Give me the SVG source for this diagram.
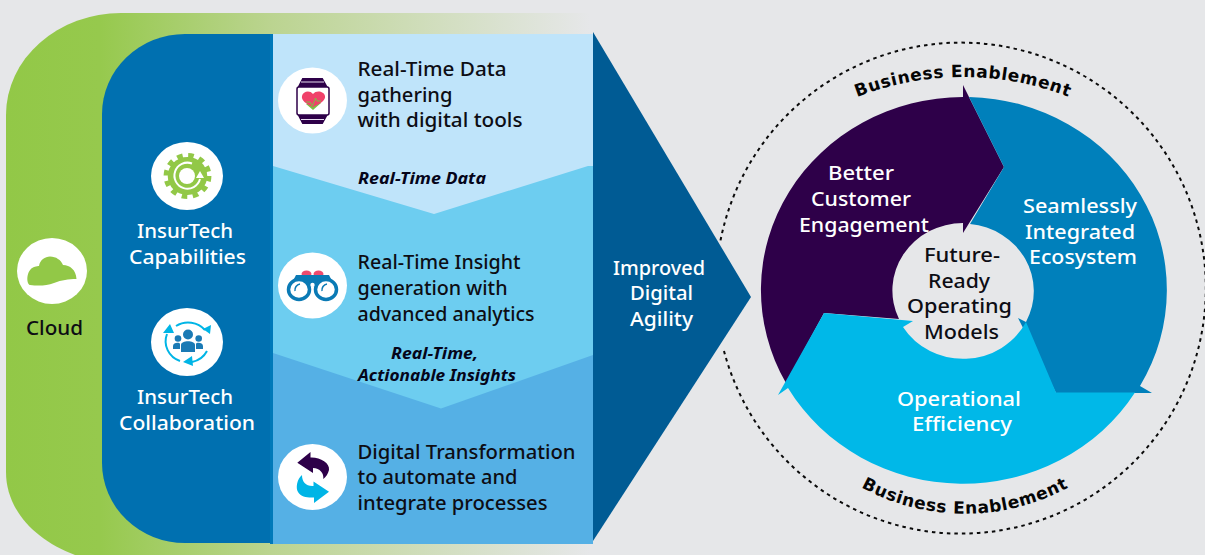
<svg xmlns="http://www.w3.org/2000/svg" width="1205" height="555" viewBox="0 0 1205 555">
<style>
text{font-family:"Noto Sans","Open Sans","DejaVu Sans",sans-serif;font-size:20px;font-weight:500;fill:#0d0d14}
.w{fill:#fff}
.it{font-size:16px;font-weight:700;font-style:italic;fill:#05051a}
.be{font-family:"DejaVu Sans","Open Sans",sans-serif;font-size:17px;font-weight:700;fill:#050505;letter-spacing:.6px}
.disc{fill:#fff}
</style>
<defs>
<linearGradient id="g" gradientUnits="userSpaceOnUse" x1="6" y1="0" x2="590" y2="0">
<stop offset="0" stop-color="#92c847"/><stop offset=".16" stop-color="#96c94d"/><stop offset=".454" stop-color="#bbd490"/><stop offset="1" stop-color="#e6e7e9"/>
</linearGradient>
<path id="bt" d="M843,103 A290,290 0 0 1 1083,103"/>
<path id="bb" d="M843,476 A216,216 0 0 0 1087,476"/>
</defs>
<rect width="1205" height="555" fill="#e6e7e9"/>
<path id="cloud-band" d="M6,115 A115,102 0 0 1 121,13 H590 V555 H75 C35,540 6,510 6,472 Z" fill="url(#g)"/>
<path id="platform" d="M273,34 H185 A83,80 0 0 0 102,114 V463 A83,80 0 0 0 185,543 H273 Z" fill="#0070b0"/>

<g id="agility">
<path d="M593,32 L751,297 L593,541 Z" fill="#005b94"/>
<text class="w" x="613" y="275" textLength="92" lengthAdjust="spacingAndGlyphs">Improved</text>
<text class="w" x="630" y="300" textLength="63" lengthAdjust="spacingAndGlyphs">Digital</text>
<text class="w" x="630" y="326" textLength="63" lengthAdjust="spacingAndGlyphs">Agility</text>
</g>

<g id="panels">
<rect x="273" y="34" width="320" height="510" fill="#bfe4fa"/>
<path d="M273,166 L434,214 L588,166 H593 V544 H273 Z" fill="#6dcdf0"/>
<path d="M273,353 L441,408.500 L593,355 V544 H273 Z" fill="#55b0e5"/>
<rect x="270" y="34" width="3" height="510" fill="#0079b9"/>
<text class="it" x="358" y="184" textLength="128" lengthAdjust="spacingAndGlyphs">Real-Time Data</text>
<text class="it" x="391" y="359" textLength="87" lengthAdjust="spacingAndGlyphs">Real-Time,</text>
<text class="it" x="358" y="381" textLength="158" lengthAdjust="spacingAndGlyphs">Actionable Insights</text>
</g>

<g id="data-gathering">
<ellipse class="disc" cx="312.500" cy="100.500" rx="34.500" ry="33"/>
<path d="M302.300,78 H322.700 L327.700,87 H297.700 Z M297.700,115 H327.700 L322.700,124 H302.300 Z" fill="#2e0049"/>
<path d="M301,82 H324 M301,119.500 H324" stroke="#e6dcef" stroke-width="1.200" fill="none"/>
<rect x="297" y="87" width="32" height="28" rx="2" fill="#fff" stroke="#2e0049" stroke-width="1.500"/>
<path d="M306,104 L313,110 L321,103 L317,100 L315,105 L312,102 Z" fill="#7ac143"/>
<path d="M313,107 C306,104 301,100 302,96 C303,91 310,90 313,94 C316,90 324,91 325,96 C326,100 320,104 313,107 Z" fill="#f0416a"/>
<path d="M306,102 H310 L312.500,106 L315.500,98 L317,101 H321" fill="none" stroke="#7ac143" stroke-width="1"/>
<text x="357.500" y="76" textLength="149" lengthAdjust="spacingAndGlyphs">Real-Time Data</text>
<text x="357.500" y="102" textLength="95" lengthAdjust="spacingAndGlyphs">gathering</text>
<text x="357.500" y="127" textLength="165" lengthAdjust="spacingAndGlyphs">with digital tools</text>
</g>

<g id="insight-generation">
<ellipse class="disc" cx="312.500" cy="285.500" rx="34.500" ry="33"/>
<ellipse cx="306.500" cy="274" rx="5" ry="3.500" fill="#ee4b6e"/>
<ellipse cx="318.500" cy="274" rx="5" ry="3.500" fill="#ee4b6e"/>
<path d="M296,275 H329 L335,287 H290 Z" fill="#0a7ab5"/>
<ellipse cx="299" cy="289.500" rx="10.500" ry="10" fill="#fff" stroke="#0a7ab5" stroke-width="3.500"/>
<ellipse cx="326" cy="289.500" rx="10.500" ry="10" fill="#fff" stroke="#0a7ab5" stroke-width="3.500"/>
<path d="M295,291 A6,6 0 0 1 300,284 M322,291 A6,6 0 0 1 327,284" stroke="#0a7ab5" stroke-width="1.500" fill="none"/>
<circle cx="312.500" cy="285" r="2.200" fill="#fff"/>
<text x="357.500" y="269" textLength="163" lengthAdjust="spacingAndGlyphs">Real-Time Insight</text>
<text x="357.500" y="295" textLength="150" lengthAdjust="spacingAndGlyphs">generation with</text>
<text x="357.500" y="321" textLength="177" lengthAdjust="spacingAndGlyphs">advanced analytics</text>
</g>

<g id="digital-transformation">
<ellipse class="disc" cx="312.500" cy="477" rx="34.500" ry="33"/>
<path d="M297.300,462.700 L310.500,452 V457.500 C320,457 330,463 329,470 C328,474 326,477 323.300,479 C324,473 320,468.500 313,468 V473 Z" fill="#2e0049"/>
<path d="M329,491.700 L313.500,481.500 V486 C306,486.500 302,482 302,475 C297,479 295.500,488 298,492 C301,497 308,498 314,497.500 V503 Z" fill="#00b5e6"/>
<text x="357.500" y="459" textLength="218" lengthAdjust="spacingAndGlyphs">Digital Transformation</text>
<text x="357.500" y="484" textLength="160" lengthAdjust="spacingAndGlyphs">to automate and</text>
<text x="357.500" y="510" textLength="190" lengthAdjust="spacingAndGlyphs">integrate processes</text>
</g>

<g id="cloud">
<ellipse class="disc" cx="52" cy="271" rx="35" ry="33"/>
<path d="M30,285 C26,284 26,270 34,267 C37,266 38,266 39,266 C40,260 45,256.500 50,256.500 C56,256.500 61,260 63,265 C70,265 76,270 76.500,279 C68,279 62,280 54,283 C46,286 38,286 30,285 Z" fill="#92c847"/>
<text x="26" y="335" textLength="57" lengthAdjust="spacingAndGlyphs">Cloud</text>
</g>

<g id="capabilities">
<ellipse class="disc" cx="187" cy="176" rx="36" ry="34"/>
<g transform="translate(187.500 176) scale(1.040 1)">
<circle r="19" fill="#92c847"/>
<circle r="20.500" fill="none" stroke="#92c847" stroke-width="5" stroke-dasharray="5.370 5.370"/>
</g>
<path d="M192,163.500 A13,13 0 1 0 200,179" fill="none" stroke="#fff" stroke-width="2"/>
<path d="M196,178 H204 L200,171 Z" fill="#fff"/>
<circle cx="187" cy="176" r="8" fill="#fff"/>
<text class="w" x="137" y="238" textLength="96" lengthAdjust="spacingAndGlyphs">InsurTech</text>
<text class="w" x="129" y="264" textLength="117" lengthAdjust="spacingAndGlyphs">Capabilities</text>
</g>

<g id="collaboration">
<ellipse class="disc" cx="187" cy="342" rx="36" ry="34"/>
<path d="M176,326 A22,21 0 0 1 205,330 M207,351 A22,21 0 0 1 192,362 M180,361 A22,21 0 0 1 167,334" fill="none" stroke="#00b5e6" stroke-width="2"/>
<path d="M203,329 L211,325 L210,334 Z M183,362 L192,356 L193,366 Z M163,333 L174,333 L170,324 Z" fill="#00b5e6"/>
<g fill="#1a7ab5">
<circle cx="188" cy="334.500" r="5"/>
<circle cx="178" cy="338.500" r="3.300"/>
<circle cx="198.700" cy="338.500" r="3.300"/>
<path d="M181,352 V345 C181,340 195,340 195,345 V352 Z"/>
<path d="M173,349 V346 C173,342 180,342 180,344 V349 Z M196,349 V344 C196,342 203,342 203,346 V349 Z"/>
</g>
<text class="w" x="137" y="404" textLength="96" lengthAdjust="spacingAndGlyphs">InsurTech</text>
<text class="w" x="119" y="430" textLength="136" lengthAdjust="spacingAndGlyphs">Collaboration</text>
</g>

<g id="operating-model">
<path d="M724,351 A245,245.500 0 1 0 720,243" fill="none" stroke="#0a0a0a" stroke-width="2" stroke-dasharray="3.500 4"/>
<text class="be"><textPath href="#bt" startOffset="50%" text-anchor="middle">Business Enablement</textPath></text>
<text class="be"><textPath href="#bb" startOffset="50%" text-anchor="middle">Business Enablement</textPath></text>
</g>

<g id="future-ready">
<ellipse cx="963.400" cy="290.500" rx="70.700" ry="67.500" fill="#e6e7e9"/>
</g>
<g id="customer-engagement">
<path d="M963,97 A202.500,193 0 0 0 786,383 L824,313 L899,319 A70.700,67.500 0 0 1 963,223 V233 L1004,167 L963,85 Z" fill="#2e0049"/>
<text class="w" x="828" y="180" textLength="66" lengthAdjust="spacingAndGlyphs">Better</text>
<text class="w" x="811" y="206" textLength="100" lengthAdjust="spacingAndGlyphs">Customer</text>
<text class="w" x="799" y="232" textLength="130" lengthAdjust="spacingAndGlyphs">Engagement</text>
</g>
<g id="integrated-ecosystem">
<path d="M969,97 A202.500,193 0 0 1 1140,386 L1152,393 H1056 L1018,318 L1026,322 A70.700,67.500 0 0 0 970,224 L1004,167 Z" fill="#0080bb"/>
<text class="w" x="1023" y="213" textLength="114" lengthAdjust="spacingAndGlyphs">Seamlessly</text>
<text class="w" x="1025" y="239" textLength="110" lengthAdjust="spacingAndGlyphs">Integrated</text>
<text class="w" x="1029" y="264" textLength="108" lengthAdjust="spacingAndGlyphs">Ecosystem</text>
</g>
<g id="operational-efficiency">
<path d="M778,395 L824,313 L913,321 L903,327 A70.700,67.500 0 0 0 1026,322 L1056,392.500 H1135 A202.500,193 0 0 1 788,388 Z" fill="#00b8e8"/>
<text class="w" x="897" y="406" textLength="124" lengthAdjust="spacingAndGlyphs">Operational</text>
<text class="w" x="912" y="431" textLength="100" lengthAdjust="spacingAndGlyphs">Efficiency</text>
</g>
<g id="future-ready-label">
<text x="924" y="262" textLength="76" lengthAdjust="spacingAndGlyphs">Future-</text>
<text x="928" y="288" textLength="62" lengthAdjust="spacingAndGlyphs">Ready</text>
<text x="907" y="313" textLength="105" lengthAdjust="spacingAndGlyphs">Operating</text>
<text x="924" y="339" textLength="75" lengthAdjust="spacingAndGlyphs">Models</text>
</g>
</svg>
